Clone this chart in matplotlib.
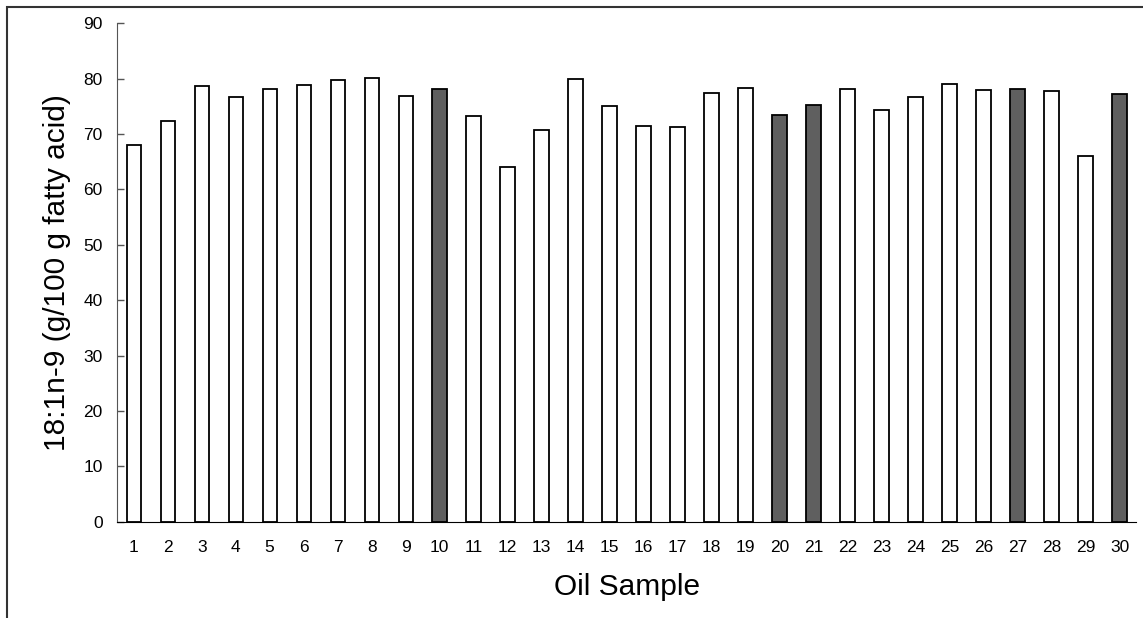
import matplotlib
matplotlib.use('Agg')
import matplotlib.pyplot as plt
from matplotlib.patches import Rectangle

plt.rcParams['font.family'] = ['Liberation Sans', 'DejaVu Sans']

samples = list(range(1, 31))
oleic = [68.0, 72.4, 78.6, 76.7, 78.2, 78.9, 79.8, 80.2, 76.8, 78.2,
         73.3, 64.1, 70.7, 80.0, 75.0, 71.4, 71.3, 77.4, 78.4, 73.4,
         75.2, 78.2, 74.3, 76.7, 79.0, 78.0, 78.2, 77.7, 66.1, 77.3]
highlight = [10, 20, 21, 27, 30]

colors = ['#5f5f5f' if s in highlight else 'white' for s in samples]

fig = plt.figure(figsize=(11.43, 6.18), dpi=100)
ax = fig.add_axes([0.1021, 0.1558, 0.8922, 0.8065])

ax.bar(samples, oleic, width=0.42, color=colors, edgecolor='black', linewidth=1.3)

ax.set_xlim(0.5, 30.5)
ax.set_ylim(0, 90)
ax.set_yticks(range(0, 91, 10))
ax.set_xticks(samples)
ax.tick_params(axis='y', direction='in', length=5, width=1, pad=10, labelsize=12.5, color='#555555')
ax.tick_params(axis='x', length=0, pad=13, labelsize=12.5)

for side in ['top', 'right']:
    ax.spines[side].set_visible(False)
ax.spines['left'].set_color('#555555')
ax.spines['bottom'].set_color('black')

ax.set_ylabel('18:1n-9 (g/100 g fatty acid)', fontsize=21.5, va='center')
ax.yaxis.set_label_coords(-0.0585, 0.5)
ax.set_xlabel('Oil Sample', fontsize=21.5, va='center')
ax.xaxis.set_label_coords(0.5, -0.1304)

# outer frame, cut off at right and bottom
frame = Rectangle((0.0064, -0.2), 1.2, 0.988 + 0.2, transform=fig.transFigure,
                  fill=False, edgecolor='#333333', linewidth=1.5, clip_on=False)
fig.patches.append(frame)

fig.savefig('out.png', dpi=100)
